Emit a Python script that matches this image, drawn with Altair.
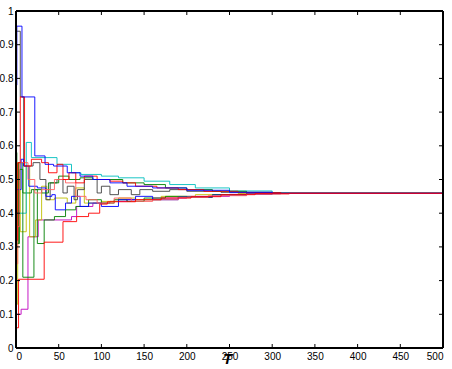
import altair as alt
import pandas as pd

# ---- data (hand-read step series: T breakpoints and values) ----
red1_t = [0, 3, 33, 55, 71, 85, 98, 107, 140, 170, 205, 240, 280, 320, 500]
red1_v = [0.06, 0.204, 0.314, 0.375, 0.39, 0.40, 0.427, 0.434, 0.44, 0.445, 0.449, 0.455, 0.458, 0.459, 0.459]

red2_t = [0, 2, 5, 10, 18, 30, 38, 48, 55, 62, 70, 80, 95, 110, 125, 140, 165, 190, 220, 260, 310, 500]
red2_v = [0.32, 0.55, 0.745, 0.54, 0.56, 0.55, 0.52, 0.545, 0.50, 0.52, 0.49, 0.51, 0.50, 0.495, 0.49, 0.48, 0.475, 0.47, 0.465, 0.461, 0.459, 0.459]

red3_t = [0, 2, 4, 14, 22, 30, 45, 58, 70, 82, 95, 115, 135, 160, 190, 225, 270, 320, 500]
red3_v = [0.25, 0.36, 0.55, 0.50, 0.46, 0.47, 0.50, 0.49, 0.45, 0.44, 0.43, 0.445, 0.435, 0.44, 0.447, 0.452, 0.457, 0.459, 0.459]

black_t = [0, 5, 9, 20, 28, 35, 40, 48, 55, 60, 68, 72, 80, 95, 100, 110, 120, 135, 145, 160, 180, 200, 240, 300, 500]
black_v = [0.94, 0.745, 0.54, 0.55, 0.50, 0.44, 0.49, 0.50, 0.46, 0.48, 0.44, 0.47, 0.50, 0.46, 0.48, 0.455, 0.47, 0.455, 0.47, 0.465, 0.47, 0.465, 0.462, 0.459, 0.459]

cyan_t = [0, 7, 12, 18, 48, 65, 76, 100, 120, 150, 180, 210, 250, 300, 500]
cyan_v = [0.40, 0.40, 0.61, 0.565, 0.545, 0.52, 0.515, 0.51, 0.505, 0.495, 0.485, 0.475, 0.466, 0.46, 0.459]

green1_t = [0, 1, 4, 8, 21, 30, 38, 50, 62, 75, 90, 105, 125, 150, 175, 200, 230, 270, 310, 500]
green1_v = [0.58, 0.31, 0.53, 0.21, 0.47, 0.46, 0.49, 0.51, 0.50, 0.505, 0.50, 0.50, 0.49, 0.485, 0.475, 0.47, 0.465, 0.461, 0.459, 0.459]

green2_t = [0, 3, 8, 18, 25, 33, 45, 58, 70, 85, 100, 115, 130, 150, 175, 200, 230, 270, 310, 500]
green2_v = [0.31, 0.55, 0.46, 0.47, 0.31, 0.38, 0.39, 0.41, 0.42, 0.44, 0.43, 0.44, 0.435, 0.445, 0.45, 0.447, 0.455, 0.458, 0.459, 0.459]

yellow_t = [0, 2, 5, 12, 16, 23, 30, 36, 45, 60, 70, 80, 100, 120, 140, 170, 210, 260, 300, 500]
yellow_v = [0.13, 0.55, 0.345, 0.54, 0.33, 0.38, 0.48, 0.44, 0.445, 0.43, 0.475, 0.43, 0.435, 0.445, 0.44, 0.45, 0.455, 0.458, 0.459, 0.459]

magenta_t = [0, 6, 14, 26, 65, 71, 90, 110, 130, 160, 200, 250, 300, 500]
magenta_v = [0.10, 0.115, 0.33, 0.38, 0.39, 0.42, 0.43, 0.435, 0.44, 0.445, 0.45, 0.456, 0.459, 0.459]

blue1_t = [0, 1, 7, 22, 34, 44, 60, 75, 90, 110, 130, 160, 200, 250, 300, 500]
blue1_v = [0.78, 0.955, 0.745, 0.57, 0.545, 0.54, 0.52, 0.51, 0.50, 0.49, 0.48, 0.475, 0.468, 0.462, 0.459, 0.459]

blue2_t = [0, 6, 9, 15, 25, 35, 42, 46, 58, 65, 75, 85, 100, 120, 140, 160, 190, 230, 270, 310, 500]
blue2_v = [0.47, 0.56, 0.54, 0.48, 0.475, 0.45, 0.455, 0.41, 0.43, 0.45, 0.42, 0.43, 0.42, 0.44, 0.45, 0.44, 0.448, 0.454, 0.458, 0.459, 0.459]

series = [
    ("magenta", magenta_t, magenta_v, "#BF00BF"),
    ("yellow", yellow_t, yellow_v, "#BFBF00"),
    ("green2", green2_t, green2_v, "#008000"),
    ("cyan", cyan_t, cyan_v, "#00BFBF"),
    ("black", black_t, black_v, "#404040"),
    ("blue2", blue2_t, blue2_v, "#0000FF"),
    ("green1", green1_t, green1_v, "#008000"),
    ("red3", red3_t, red3_v, "#FF6060"),
    ("red2", red2_t, red2_v, "#FF0000"),
    ("blue1", blue1_t, blue1_v, "#0000FF"),
    ("red1", red1_t, red1_v, "#FF0000"),
]

x_ticks = [0, 50, 100, 150, 200, 250, 300, 350, 400, 450, 500]
y_ticks = [0, 0.1, 0.2, 0.3, 0.4, 0.5, 0.6, 0.7, 0.8, 0.9, 1.0]

W, H = 427, 337
FONT = "Liberation Sans"

rows = []
for i, (name, ts, vs, col) in enumerate(series):
    for t, v in zip(ts, vs):
        rows.append({"s": name, "order": i, "T": t, "v": v})
df = pd.DataFrame(rows)

xs = alt.Scale(domain=[0, 500], nice=False, zero=False)
ys = alt.Scale(domain=[0, 1], nice=False, zero=False)

ax_x = alt.Axis(
    values=x_ticks, title="T", grid=False, ticks=False, domain=False,
    labelFont=FONT, labelFontSize=10,
    labelColor="black", labelPadding=3, labelOverlap=False,
    titleFont=FONT, titleFontSize=15,
    titleFontStyle="italic", titleFontWeight="bold", titleColor="black",
    titleBaseline="top", titleY=3, titleX=211, titleAlign="center", format="d")
ax_y = alt.Axis(
    values=y_ticks, title=None, grid=False, ticks=False, domain=False,
    labelFont=FONT, labelFontSize=10,
    labelColor="black", labelPadding=3, labelOverlap=False,
    labelExpr="datum.value == 0 ? '0' : datum.value == 1 ? '1' : format(datum.value, '.1f')")

names = [s[0] for s in series]
colors = [s[3] for s in series]

lines = alt.Chart(df).mark_line(interpolate="step-after", strokeWidth=1, opacity=0.9, clip=True).encode(
    x=alt.X("T:Q", scale=xs, axis=ax_x),
    y=alt.Y("v:Q", scale=ys, axis=ax_y),
    color=alt.Color("s:N", scale=alt.Scale(domain=names, range=colors), legend=None),
    detail="s:N",
    order="order:Q",
)

xt = pd.DataFrame({"T": x_ticks})
yt = pd.DataFrame({"v": y_ticks})

tb = alt.Chart(xt).mark_rule(color="black", strokeWidth=1).encode(
    x=alt.X("T:Q", scale=xs, axis=ax_x), y=alt.value(H), y2=alt.value(H - 4))
tt = alt.Chart(xt).mark_rule(color="black", strokeWidth=1).encode(
    x=alt.X("T:Q", scale=xs, axis=ax_x), y=alt.value(0), y2=alt.value(4))
tl = alt.Chart(yt).mark_rule(color="black", strokeWidth=1).encode(
    y=alt.Y("v:Q", scale=ys, axis=ax_y), x=alt.value(0), x2=alt.value(4))
tr = alt.Chart(yt).mark_rule(color="black", strokeWidth=1).encode(
    y=alt.Y("v:Q", scale=ys, axis=ax_y), x=alt.value(W), x2=alt.value(W - 4))

# frame (box) lines
frame_b = alt.Chart(xt).mark_rule(color="black", strokeWidth=1.5).encode(
    x=alt.value(0), x2=alt.value(W), y=alt.value(H))
frame_t = alt.Chart(xt).mark_rule(color="black", strokeWidth=1).encode(
    x=alt.value(0), x2=alt.value(W), y=alt.value(0))
frame_l = alt.Chart(xt).mark_rule(color="black", strokeWidth=1.5).encode(
    y=alt.value(0), y2=alt.value(H), x=alt.value(0))
frame_r = alt.Chart(xt).mark_rule(color="black", strokeWidth=1.5).encode(
    y=alt.value(0), y2=alt.value(H), x=alt.value(W))

chart = alt.layer(lines, tb, tt, tl, tr, frame_b, frame_t, frame_l, frame_r).properties(
    width=W, height=H,
    background="white",
    autosize=alt.AutoSizeParams(type="none"),
    padding={"left": 16, "top": 11, "right": 9, "bottom": 21},
).configure_view(stroke=None)

chart.save("out.html", embed_options={"renderer": "svg", "actions": False})
